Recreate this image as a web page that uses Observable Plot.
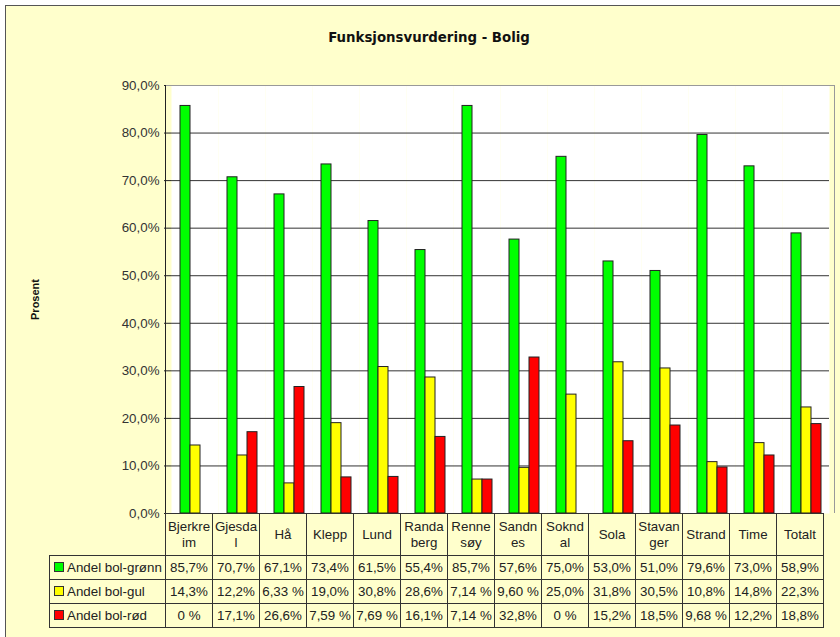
<!DOCTYPE html>
<html><head><meta charset="utf-8">
<script src="https://cdn.jsdelivr.net/npm/d3@7"></script>
<script src="https://cdn.jsdelivr.net/npm/@observablehq/plot@0.6"></script>
<style>
html,body{margin:0;padding:0;}
body{width:840px;height:637px;overflow:hidden;position:relative;background:#fff;font-family:"Liberation Sans",Arial,sans-serif;}
#bg{position:absolute;left:5px;top:5px;width:860px;height:660px;border:1px solid #555;background:#FFFFCC;}
#title{position:absolute;left:5px;top:30px;width:848px;text-align:center;font-family:"DejaVu Sans",sans-serif;font-weight:bold;font-size:13.33px;color:#111;}
#plot{position:absolute;left:0;top:0;}
#pborder{position:absolute;left:165px;top:85px;width:670px;height:428px;border-top:1px solid #999;border-right:1px solid #999;box-sizing:border-box;pointer-events:none;}
#tbl{position:absolute;left:49px;top:513px;border-collapse:collapse;table-layout:fixed;font-size:13.33px;color:#222;}
#tbl td{border:1px solid #333;padding:0;text-align:center;background:#FFFFCC;line-height:16px;white-space:pre-line;overflow:hidden;}
#tbl td.leg{text-align:left;padding-left:4px;white-space:nowrap;}
#tbl td.blank{border-top:none;border-left:none;background:transparent;}
.key{display:inline-block;width:8px;height:8px;border:1px solid #333;margin-right:3px;vertical-align:0px;}
svg [aria-label="y-axis label"]{font-weight:bold;font-size:11px;fill:#111;}
</style>
</head><body>
<div id="bg"></div>
<div id="title">Funksjonsvurdering - Bolig</div>
<div id="plot"></div>
<div id="pborder"></div>
<table id="tbl"></table>
<script>
const categories = ["Bjerkreim","Gjesdal","Hå","Klepp","Lund","Randaberg","Rennesøy","Sandnes","Sokndal","Sola","Stavanger","Strand","Time","Totalt"];
const categoryLines = ["Bjerkre\nim","Gjesda\nl","Hå","Klepp","Lund","Randa\nberg","Renne\nsøy","Sandn\nes","Soknd\nal","Sola","Stavan\nger","Strand","Time","Totalt"];
const seriesNames = ["Andel bol-grønn","Andel bol-gul","Andel bol-rød"];
const seriesColors = ["#00FF00","#FFFF00","#FF0000"];
const green = [85.7,70.7,67.1,73.4,61.5,55.4,85.7,57.6,75.0,53.0,51.0,79.6,73.0,58.9];
const yellow = [14.3,12.2,6.33,19.0,30.8,28.6,7.14,9.60,25.0,31.8,30.5,10.8,14.8,22.3];
const red = [0,17.1,26.6,7.59,7.69,16.1,7.14,32.8,0,15.2,18.5,9.68,12.2,18.8];
const yTicks = [0,10,20,30,40,50,60,70,80,90];

const seriesValues = [green, yellow, red];
const data = [];
categories.forEach((c,i) => seriesNames.forEach((s,j) => data.push({cat:c, series:s, value:seriesValues[j][i]})));

const pct = v => v.toFixed(1).replace(".", ",") + "%";
const cellText = v => v === 0 ? "0 %" : (v < 10 ? v.toFixed(2).replace(".", ",") + " %" : v.toFixed(1).replace(".", ",") + "%");

const chart = Plot.plot({
  width: 840, height: 515,
  marginLeft: 165, marginRight: 5, marginTop: 85, marginBottom: 2,
  style: {background: "transparent", fontFamily: "Liberation Sans, Arial, sans-serif", fontSize: "13.33px", color: "#222", overflow: "visible"},
  fx: {domain: categories, paddingInner: 0, paddingOuter: 0, axis: null},
  x: {domain: seriesNames, paddingInner: 0, paddingOuter: 0.68, axis: null},
  y: {domain: [0, 90]},
  color: {domain: seriesNames, range: seriesColors},
  marks: [
    Plot.frame({fill: "white", stroke: "none"}),
    Plot.ruleY(yTicks.slice(1, -1), {stroke: "#333", strokeWidth: 1}),
    Plot.barY(data.filter(d => d.value > 0), {fx: "cat", x: "series", y: "value", fill: "series", stroke: "#222", strokeWidth: 1, inset: 0}),
    Plot.axisY({ticks: yTicks, tickFormat: pct, tickSize: 7, tickPadding: 5, stroke: "#222", fill: "#333",
      label: "Prosent", labelAnchor: "center", labelArrow: "none", labelOffset: 140})
  ]
});
document.getElementById("plot").appendChild(chart);

// left axis line (plot-area edge)
const ax = document.createElement("div");
ax.style.cssText = "position:absolute;left:165px;top:85px;width:1px;height:428px;background:#222;";
document.body.appendChild(ax);

// data table aligned with the fx scale
const fx = chart.scale("fx");
const bw = fx.bandwidth ?? (670/14);
const tbl = document.getElementById("tbl");
const cg = document.createElement("colgroup");
const c0 = document.createElement("col"); c0.style.width = "116px"; cg.appendChild(c0);
categories.forEach(() => { const c = document.createElement("col"); c.style.width = bw + "px"; cg.appendChild(c); });
tbl.appendChild(cg);
let tr = document.createElement("tr"); tr.style.height = "42px";
let td = document.createElement("td"); td.className = "blank"; tr.appendChild(td);
categoryLines.forEach(l => { const t = document.createElement("td"); t.textContent = l; tr.appendChild(t); });
tbl.appendChild(tr);
seriesNames.forEach((s, j) => {
  const r = document.createElement("tr"); r.style.height = "24px";
  const lt = document.createElement("td"); lt.className = "leg";
  const k = document.createElement("span"); k.className = "key"; k.style.background = seriesColors[j];
  lt.appendChild(k); lt.appendChild(document.createTextNode(s)); r.appendChild(lt);
  seriesValues[j].forEach(v => { const t = document.createElement("td"); t.textContent = cellText(v); r.appendChild(t); });
  tbl.appendChild(r);
});
</script>
</body></html>
